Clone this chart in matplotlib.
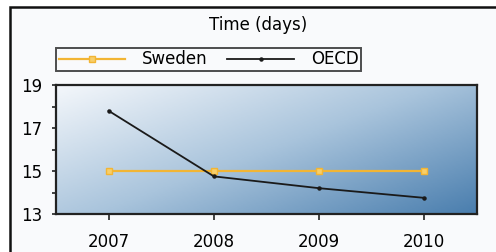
import matplotlib.pyplot as plt
import numpy as np
from matplotlib.colors import LinearSegmentedColormap
from matplotlib.patches import Rectangle

years = [2007, 2008, 2009, 2010]
sweden = [15.0, 15.0, 15.0, 15.0]
oecd = [17.8, 14.75, 14.2, 13.75]
title = "Time (days)"

W, H = 496, 252
fig = plt.figure(figsize=(W / 100, H / 100), dpi=100)
fig.patch.set_facecolor("white")

# outer frame, runs off the right and bottom edges
fig.patches.append(Rectangle((10 / W, -0.1), 1.0, 1 - 6.5 / H + 0.1,
                             transform=fig.transFigure, facecolor="#f9fafc",
                             edgecolor="#111111", linewidth=1.8, zorder=-5))

ax = fig.add_axes([56 / W, 1 - 214 / H, (477 - 56) / W, (214 - 85) / H])
ax.set_facecolor("none")

# diagonal gradient background
cmap = LinearSegmentedColormap.from_list("bg", ["#f4f7fb", "#a9c4dc", "#4a7eae"])
gx, gy = np.meshgrid(np.linspace(0, 1, 200), np.linspace(0, 1, 100))
grad = (gx * 0.55 + gy * 0.45)
ax.imshow(grad, cmap=cmap, extent=[2006.5, 2010.5, 13, 19],
          aspect="auto", origin="upper", zorder=0)

ax.plot(years, sweden, color="#f2b534", lw=1.6, marker="s", ms=4,
        mfc="#f8cf6a", mec="#f2b534", label="Sweden", zorder=3)
ax.plot(years, oecd, color="#1a1a1a", lw=1.3, marker="o", ms=2.2,
        label="OECD", zorder=4)

ax.set_xlim(2006.5, 2010.5)
ax.set_ylim(13, 19)
ax.set_xticks(years)
ax.set_xticklabels([str(y) for y in years])
ax.set_yticks([13, 15, 17, 19])
ax.set_yticks([14, 16, 18], minor=True)
ax.tick_params(axis="x", which="major", direction="out", length=4,
               width=1.2, color="#222222", labelsize=12, pad=10)
ax.tick_params(axis="y", which="major", direction="out", length=3,
               width=1.2, color="#222222", labelsize=12, pad=7)
ax.tick_params(axis="y", which="minor", direction="out", length=3,
               width=1.2, color="#222222")
for s in ax.spines.values():
    s.set_color("#222222")
    s.set_linewidth(1.6)

fig.text(258 / W, 1 - 25 / H, title, ha="center", va="center", fontsize=12)

leg = fig.legend(loc="upper left", bbox_to_anchor=(56 / W, 1 - 48 / H),
                 ncol=2, frameon=True, fancybox=False, fontsize=12,
                 borderaxespad=0, handlelength=4.0, columnspacing=1.2,
                 handletextpad=1.0, borderpad=0.15)
leg.get_frame().set_edgecolor("#222222")
leg.get_frame().set_linewidth(1.4)
leg.get_frame().set_facecolor("#f9fafc")

fig.savefig("out.png", dpi=100)
